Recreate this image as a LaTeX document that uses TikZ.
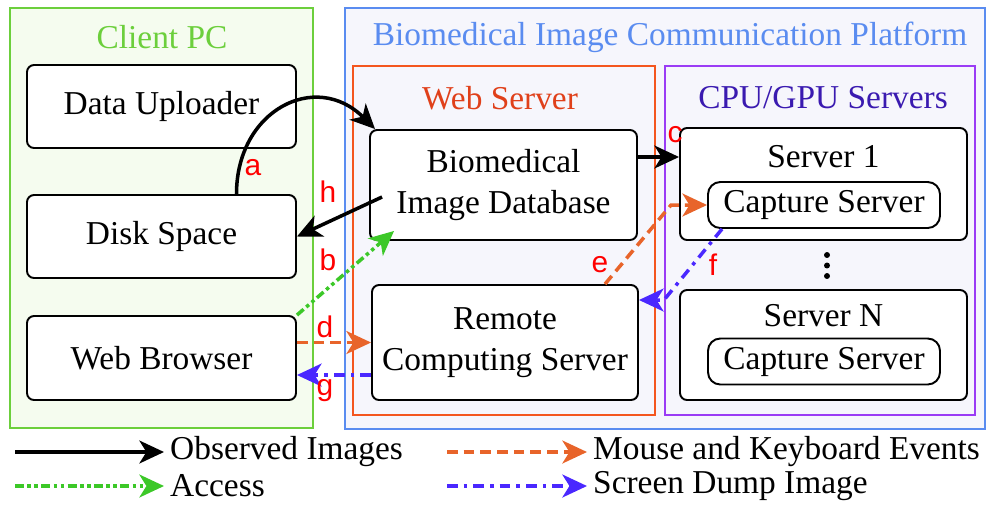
\documentclass[tikz,border=0pt]{standalone}
\usepackage{fontspec}
\setmainfont{Liberation Serif}
\newfontfamily\labelfont{Liberation Sans}
\usepackage{tikz}
\usetikzlibrary{arrows.meta}
\definecolor{clientgreen}{HTML}{6CCF3C}
\definecolor{clientfill}{HTML}{F5FCEF}
\definecolor{platblue}{HTML}{5A8CF0}
\definecolor{platfill}{HTML}{F6F6FC}
\definecolor{weborange}{HTML}{F4561F}
\definecolor{webtitle}{HTML}{E0401A}
\definecolor{gpupurple}{HTML}{9A3CF5}
\definecolor{gputitle}{HTML}{3A1AB0}
\definecolor{evorange}{HTML}{E8642A}
\definecolor{accgreen}{HTML}{3CC828}
\definecolor{dumpblue}{HTML}{4A28FF}

\begin{document}
\begin{tikzpicture}[
	font=\fontsize{19}{23}\selectfont,
	box/.style={draw=black, line width=1.1pt, fill=white, rounded corners=4pt, align=center},
	capbox/.style={draw=black, line width=1.1pt, fill=white, rounded corners=7pt, minimum width=4.64cm, minimum height=0.92cm},
	lbl/.style={text=red, font=\labelfont\fontsize{17}{20}\selectfont},
	obs/.style={black, line width=2pt, -{Stealth[length=14pt, width=13pt, inset=4pt]}},
	acc/.style={accgreen, line width=2pt, dash pattern=on 5pt off 2pt on 2pt off 2pt on 2pt off 2pt, -{Stealth[length=14pt, width=13pt, inset=4pt]}},
	ev/.style={evorange, line width=2pt, dash pattern=on 6pt off 3.5pt, -{Stealth[length=14pt, width=13pt, inset=4pt]}},
	dump/.style={dumpblue, line width=2pt, dash pattern=on 6pt off 3.5pt on 2pt off 3.5pt, -{Stealth[length=14pt, width=13pt, inset=4pt]}}
]
	\useasboundingbox (0,0) rectangle (19.84,-10.18);
	\draw[clientgreen, line width=0.8pt, fill=clientfill] (0.2,-0.16) rectangle (6.26,-8.56);
	\draw[platblue, line width=0.8pt, fill=platfill] (6.9,-0.16) rectangle (19.7,-8.58);
	\draw[weborange, line width=1.2pt] (7.06,-1.32) rectangle (13.1,-8.3);
	\draw[gpupurple, line width=1.2pt] (13.3,-1.32) rectangle (19.5,-8.3);
	\node[text=clientgreen] (clienttitle) at (3.24,-0.74) {Client PC};
	\node[text=platblue] (plattitle) at (13.4,-0.74) {Biomedical Image Communication Platform};
	\node[text=webtitle] (webtitle) at (10.0,-1.96) {Web Server};
	\node[text=gputitle] (gputitle) at (16.46,-1.96) {CPU/GPU Servers};

	\node[box, minimum width=5.38cm, minimum height=1.66cm] (uploader) at (3.23,-2.13) {Data Uploader};
	\node[box, minimum width=5.38cm, minimum height=1.66cm] (disk) at (3.23,-4.73) {Disk Space};
	\node[box, minimum width=5.38cm, minimum height=1.68cm] (browser) at (3.23,-7.16) {Web Browser};
	\node[box, minimum width=5.34cm, minimum height=2.2cm] (db) at (10.07,-3.7) {Biomedical\\Image Database};
	\node[box, minimum width=5.32cm, minimum height=2.3cm] (remote) at (10.1,-6.85) {Remote\\Computing Server};
	\node[box, minimum width=5.74cm, minimum height=2.24cm] (srv1) at (16.47,-3.68) {};
	\node (srv1text) at (16.47,-3.14) {Server 1};
	\node[capbox] (cap1) at (16.48,-4.1) {Capture Server};
	\foreach \dy in {0,0.21,0.42}
		\fill (16.54,-5.1-\dy) circle (1.7pt);
	\node[box, minimum width=5.74cm, minimum height=2.2cm] (srvN) at (16.47,-6.9) {};
	\node (srvNtext) at (16.47,-6.32) {Server N};
	\node[capbox] (capN) at (16.48,-7.23) {Capture Server};

	\coordinate (gstart) at ([yshift=-0.65cm]remote.west);
	\coordinate (cstart) at ([yshift=0.56cm]db.east);
	\draw[obs] ([xshift=1.5cm]disk.north) to[out=90, in=135, looseness=1.4] ([xshift=0.12cm]db.north west);
	\draw[obs] ([xshift=0.26cm, yshift=-0.24cm]db.west) -- (disk.east);
	\draw[acc] (browser.north east) -- ([xshift=0.5cm, yshift=0.2cm]db.south west);
	\draw[ev] (browser.east |- remote.west) -- (remote.west);
	\draw[dump] (gstart) -- (browser.east |- gstart);
	\draw[obs] (cstart) -- (srv1.west |- cstart);
	\draw[ev] ([xshift=2.0cm]remote.north) -- ([xshift=-0.72cm]cap1.west) -- (cap1.west);
	\draw[dump] ([xshift=0.3cm]cap1.south west) -- ([xshift=0.5cm, yshift=0.85cm]remote.east) -- ([yshift=0.85cm]remote.east);

	\node[lbl] (la) at (5.06,-3.36) {a};
	\node[lbl] (lh) at (6.56,-3.84) {h};
	\node[lbl] (lb) at (6.56,-5.2) {b};
	\node[lbl] (ld) at (6.5,-6.54) {d};
	\node[lbl] (lg) at (6.5,-7.82) {g};
	\node[lbl] (lc) at (13.5,-2.7) {c};
	\node[lbl] (le) at (12.0,-5.3) {e};
	\node[lbl] (lf) at (14.26,-5.3) {f};

	\coordinate (obsstart) at (0.3,-9.04);
	\coordinate (accstart) at (0.3,-9.72);
	\coordinate (evstart) at (8.94,-9.04);
	\coordinate (dumpstart) at (8.94,-9.72);
	\node[anchor=west] (obstext) at (3.28,-9.04) {Observed Images};
	\node[anchor=west] (acctext) at (3.28,-9.72) {Access};
	\node[anchor=west] (evtext) at (11.74,-9.04) {Mouse and Keyboard Events};
	\node[anchor=west] (dumptext) at (11.74,-9.72) {Screen Dump Image};
	\draw[obs] (obsstart) -- (obstext.west);
	\draw[acc] (accstart) -- (acctext.west);
	\draw[ev] (evstart) -- (evtext.west);
	\draw[dump] (dumpstart) -- (dumptext.west);
\end{tikzpicture}
\end{document}
